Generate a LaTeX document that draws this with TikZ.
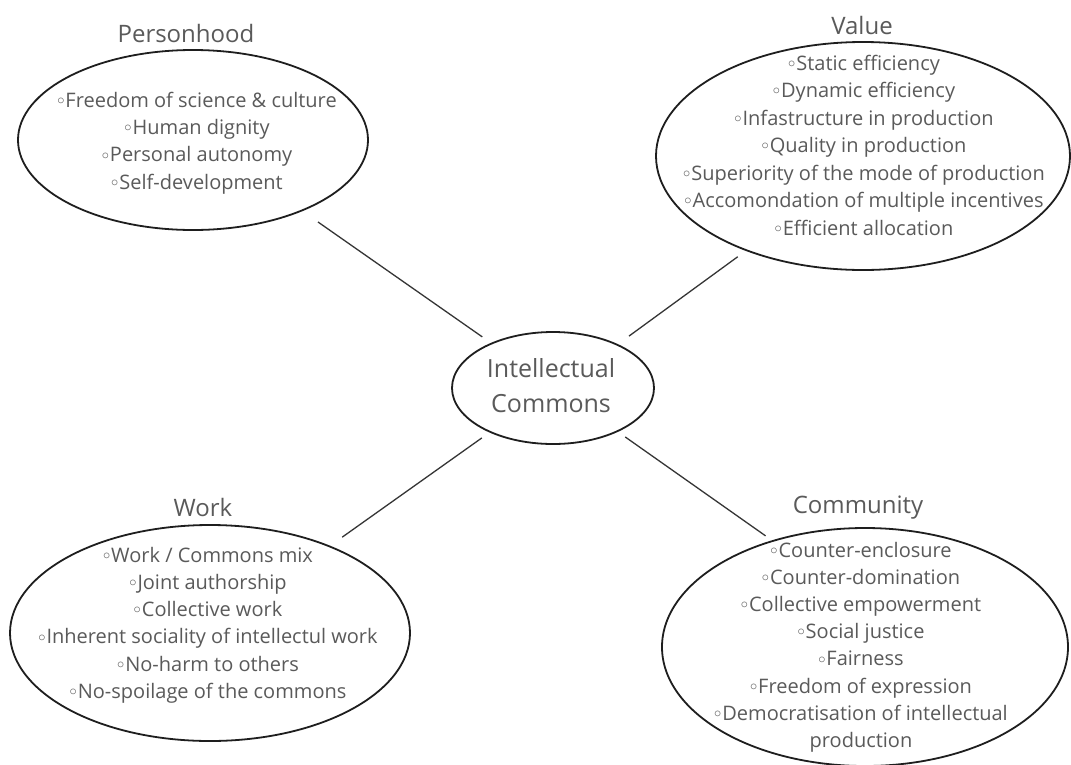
\documentclass[tikz,border=0pt]{standalone}
\usepackage{fontspec}
\setmainfont{Open Sans}
\usetikzlibrary{shapes.geometric}
\definecolor{inkline}{HTML}{1E1E1E}
\definecolor{inktext}{HTML}{5A5A5A}
\newcommand\bul{\raisebox{0.25ex}{$\scriptstyle\circ$}\kern0.05em}
\tikzset{
  bubble/.style={ellipse, draw=inkline, line width=1.8pt, inner sep=0pt, outer sep=0pt},
  itemlist/.style={align=center, text=inktext, font=\fontsize{20}{27.2}\selectfont, inner sep=0pt},
  heading/.style={text=inktext, font=\fontsize{24}{28}\selectfont, inner sep=0pt},
  link/.style={draw=inkline!90, line width=1.3pt}
}
\begin{document}
\begin{tikzpicture}[x=1pt, y=-1pt]
\useasboundingbox[fill=white] (0,0) rectangle (1071,764);

% central concept
\node[bubble, minimum width=202pt, minimum height=112pt] (core) at (553,388) {};
\node[align=center, text=inktext, font=\fontsize{25}{35}\selectfont, inner sep=0pt] (coretext) at (551,386) {Intellectual\\Commons};

% Personhood
\node[heading] (ptitle) at (186,33) {Personhood};
\node[bubble, minimum width=350pt, minimum height=180pt] (person) at (193,140) {};
\node[itemlist] (plist) at (197,143) {\bul Freedom of science \& culture\\\bul Human dignity\\\bul Personal autonomy\\\bul Self-development};

% Value
\node[heading] (vtitle) at (862,25) {Value};
\node[bubble, minimum width=414pt, minimum height=228pt] (value) at (863,156) {};
\node[itemlist, font=\fontsize{20}{27.5}\selectfont] (vlist) at (864,145) {\bul Static efficiency\\\bul Dynamic efficiency\\\bul Infastructure in production\\\bul Quality in production\\\bul Superiority of the mode of production\\\bul Accomondation of multiple incentives\\\bul Efficient allocation};

% Work
\node[heading] (wtitle) at (203,507) {Work};
\node[bubble, minimum width=400pt, minimum height=216pt] (work) at (210,633) {};
\node[itemlist] (wlist) at (208,625) {\bul Work / Commons mix\\\bul Joint authorship\\\bul Collective work\\\bul Inherent sociality of intellectul work\\\bul No-harm to others\\\bul No-spoilage of the commons};

% Community
\node[heading] (ctitle) at (858,508) {Community};
\node[bubble, minimum width=406pt, minimum height=238pt] (community) at (865,647) {};
\node[itemlist] (clist) at (861,647) {\bul Counter-enclosure\\\bul Counter-domination\\\bul Collective empowerment\\\bul Social justice\\\bul Fairness\\\bul Freedom of expression\\\bul Democratisation of intellectual\\production};

% connectors between the centre and the four themes
\draw[link, shorten <=20pt, shorten >=11.5pt] (person.-33.5) -- (core.144.3);
\draw[link, shorten <=11pt, shorten >=14.7pt] (value.219.7) -- (core.34.7);
\draw[link, shorten <=10.4pt, shorten >=15.8pt] (core.215.2) -- (work.36);
\draw[link, shorten <=9.9pt, shorten >=8.9pt] (core.-34.2) -- (community.131.8);
\end{tikzpicture}
\end{document}
